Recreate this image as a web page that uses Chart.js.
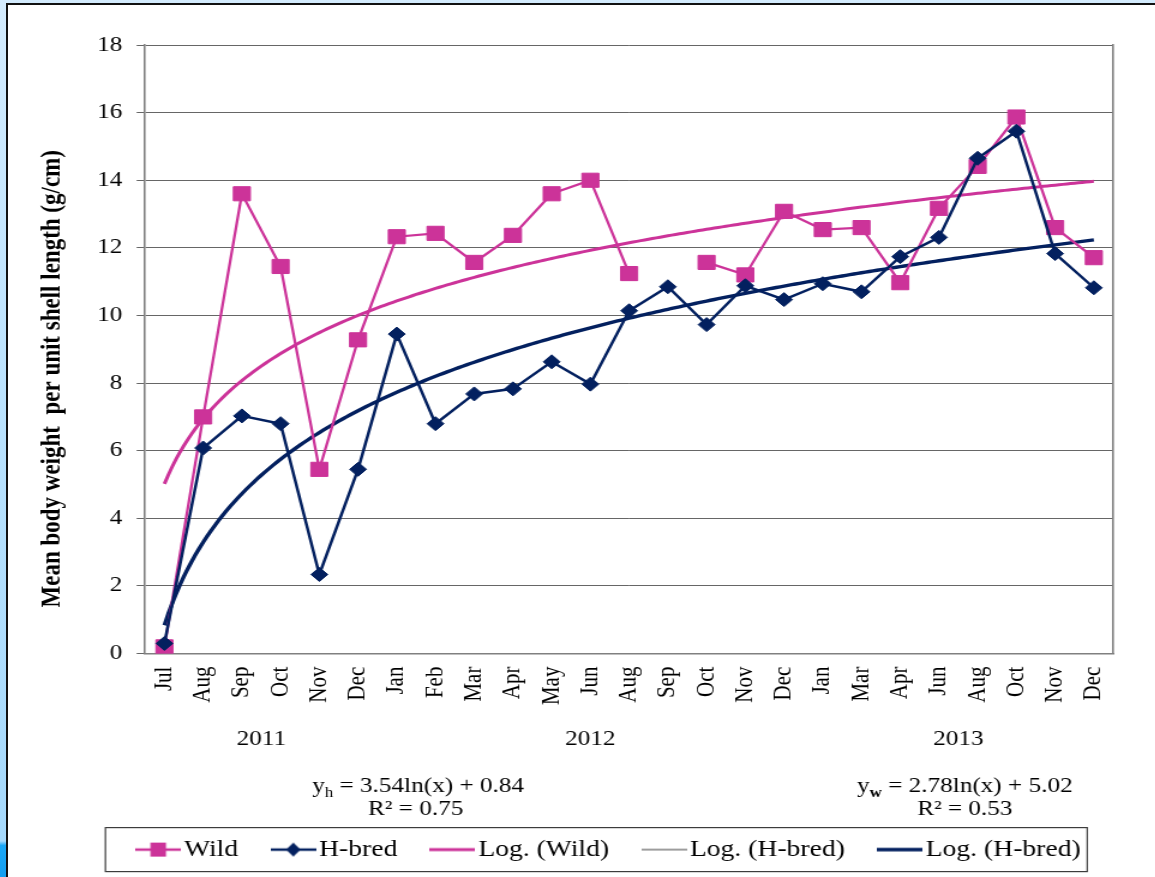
<!DOCTYPE html>
<html>
<head>
<meta charset="utf-8">
<title>Mean body weight per unit shell length</title>
<script src="https://cdn.jsdelivr.net/npm/chart.js@4.4.1/dist/chart.umd.min.js"></script>
<style>
  html, body { margin: 0; padding: 0; }
  body {
    width: 1155px; height: 877px; overflow: hidden; position: relative;
    background: linear-gradient(180deg, #d3ebfd 0%, #b8e1fd 50%, #a5d9fc 95.9%, #1ca7f6 96.4%, #139eef 100%);
  }
  #panel {
    position: absolute; left: 6px; top: 3px; right: 0; bottom: 0;
    background: #ffffff; border-left: 2px solid #111; border-top: 2px solid #111;
  }
  /* the plot is drawn on a narrower canvas and widened horizontally */
  #wrap {
    position: absolute; left: 8px; top: 5px; width: 956px; height: 872px;
    transform: scaleX(1.2); transform-origin: 0 0;
  }
</style>
</head>
<body>
<div id="panel"></div>
<div id="wrap"><canvas id="chart" width="956" height="872"></canvas></div>
<script>
// ---- data ----
const months = ['Jul', 'Aug', 'Sep', 'Oct', 'Nov', 'Dec',
                'Jan', 'Feb', 'Mar', 'Apr', 'May', 'Jun', 'Aug', 'Sep', 'Oct', 'Nov', 'Dec',
                'Jan', 'Mar', 'Apr', 'Jun', 'Aug', 'Oct', 'Nov', 'Dec'];
const yearLabels = ['2011', '2012', '2013'];
const yearFirstIndex = [0, 6, 17];
const yearLastIndex = [5, 16, 24];

const wild = [0.2, 7.0, 13.6, 11.45, 5.45, 9.28,
              12.33, 12.43, 11.57, 12.37, 13.6, 14.0, 11.24, null, 11.57, 11.2, 13.08,
              12.54, 12.6, 10.97, 13.17, 14.41, 15.87, 12.6, 11.71];
const hBred = [0.3, 6.08, 7.03, 6.8, 2.34, 5.45,
               9.45, 6.8, 7.68, 7.83, 8.63, 7.97, 10.14, 10.85, 9.73, 10.88, 10.47,
               10.94, 10.7, 11.74, 12.31, 14.65, 15.45, 11.83, 10.82];

// logarithmic fits: [slope, intercept] for y = a*ln(x) + b, x = 1..n
const hBredLogFit = [3.54, 0.84];
const wildLogFit = [2.78, 5.02];
const hBredR2 = '0.75';
const wildR2 = '0.53';

const yTickValues = [0, 2, 4, 6, 8, 10, 12, 14, 16, 18];

// ---- styling ----
const SERIF = '"Liberation Serif", "Times New Roman", Times, serif';
const PINK = '#cc3399';
const NAVY = '#03205f';
const AXIS_GRAY = '#808080';
const GRID_GRAY = '#666666';

// fitted curve sampled along the month index
function logFitPoints(fit, n) {
  const pts = [];
  for (let i = 10; i <= n * 10; i++) {
    const x = i / 10;
    pts.push({ x: x, y: fit[0] * Math.log(x) + fit[1] });
  }
  return pts;
}

// small line + marker swatches for the legend
function swatch(color, width, marker) {
  const c = document.createElement('canvas');
  c.width = 38; c.height = 20;
  const g = c.getContext('2d');
  g.strokeStyle = color; g.lineWidth = width;
  g.beginPath(); g.moveTo(0, 10); g.lineTo(38, 10); g.stroke();
  g.fillStyle = color;
  if (marker === 'square') {
    g.fillRect(12.5, 3, 13, 14);
  } else if (marker === 'diamond') {
    g.beginPath();
    g.moveTo(13, 10); g.lineTo(19, 3); g.lineTo(25, 10); g.lineTo(19, 17);
    g.closePath(); g.fill();
  }
  return c;
}

const legendEntries = [
  { text: 'Wild', img: swatch(PINK, 2.5, 'square'), color: PINK, ds: 0 },
  { text: 'H-bred', img: swatch(NAVY, 2.5, 'diamond'), color: NAVY, ds: 1 },
  { text: 'Log. (Wild)', img: swatch(PINK, 3, null), color: PINK, ds: 2 },
  { text: 'Log. (H-bred)', img: swatch('#3a3a3a', 1, null), color: '#3a3a3a', ds: 3 },
  { text: 'Log. (H-bred)', img: swatch(NAVY, 3.5, null), color: NAVY, ds: 3 }
];

const LEGEND_SHIFT = 44;

function drawFit(ctx, cx, cy, sub, subBold, rest) {
  const main = '21px ' + SERIF;
  const small = (subBold ? 'bold ' : '') + '14px ' + SERIF;
  ctx.font = main; const wy = ctx.measureText('y').width; const wr = ctx.measureText(rest).width;
  ctx.font = small; const ws = ctx.measureText(sub).width;
  let x = cx - (wy + ws + wr) / 2;
  ctx.textAlign = 'left'; ctx.textBaseline = 'alphabetic';
  ctx.font = main; ctx.fillText('y', x, cy + 7); x += wy;
  ctx.font = small; ctx.fillText(sub, x, cy + 12); x += ws;
  ctx.font = main; ctx.fillText(rest, x, cy + 7);
}

const annotations = {
  id: 'annotations',
  afterLayout(chart) {
    chart.legend.left += LEGEND_SHIFT;
    chart.legend.right += LEGEND_SHIFT;
  },
  afterDraw(chart) {
    const ctx = chart.ctx;
    const area = chart.chartArea;
    const xt = chart.scales.xt;
    ctx.save();
    ctx.fillStyle = '#000';

    // value axis title
    ctx.save();
    ctx.translate(area.left - 77.5, (area.top + area.bottom) / 2 + 29.5);
    ctx.rotate(-Math.PI / 2);
    ctx.font = 'bold 23px ' + SERIF;
    ctx.textAlign = 'center'; ctx.textBaseline = 'middle';
    ctx.fillText('Mean body weight  per unit shell length (g/cm)', 0, 0);
    ctx.restore();

    // years under the month labels
    ctx.font = '21px ' + SERIF;
    ctx.textAlign = 'center'; ctx.textBaseline = 'middle';
    yearLabels.forEach((yr, i) => {
      const mid = (yearFirstIndex[i] + yearLastIndex[i]) / 2 + 1;
      ctx.fillText(yr, xt.getPixelForValue(mid), area.bottom + 86);
    });

    // fitted equations
    const leftX = xt.getPixelForValue(7.55);
    const rightX = xt.getPixelForValue(21.67);
    drawFit(ctx, leftX, area.bottom + 131, 'h', false,
            ' = ' + hBredLogFit[0].toFixed(2) + 'ln(x) + ' + hBredLogFit[1].toFixed(2));
    drawFit(ctx, rightX, area.bottom + 131, 'w', true,
            ' = ' + wildLogFit[0].toFixed(2) + 'ln(x) + ' + wildLogFit[1].toFixed(2));
    ctx.font = '21px ' + SERIF;
    ctx.textAlign = 'center'; ctx.textBaseline = 'middle';
    ctx.fillText('R\u00B2 = ' + hBredR2, leftX - 2, area.bottom + 156);
    ctx.fillText('R\u00B2 = ' + wildR2, rightX, area.bottom + 156);

    // frame round the legend row
    const lg = chart.legend;
    const pad = lg.options.labels.padding;
    const lw = lg.lineWidths[0];
    const start = (lg.left + pad + lg.right - lw) / 2;
    const rowMid = lg.top + pad + 11.5;
    ctx.strokeStyle = '#3c3c3c'; ctx.lineWidth = 1.2;
    ctx.strokeRect(start - 34, rowMid - 22, lw - pad + 39.5, 44);
    ctx.restore();
  }
};

new Chart(document.getElementById('chart'), {
  type: 'line',
  data: {
    labels: months,
    datasets: [
      {
        label: 'Wild', data: wild, xAxisID: 'x', yAxisID: 'y',
        borderColor: PINK, backgroundColor: PINK, borderWidth: 2.3,
        pointStyle: 'rect', pointRadius: 10, pointBorderWidth: 1,
        pointBackgroundColor: PINK, pointBorderColor: PINK,
        tension: 0, spanGaps: false, order: 2
      },
      {
        label: 'H-bred', data: hBred, xAxisID: 'x', yAxisID: 'y',
        borderColor: NAVY, backgroundColor: NAVY, borderWidth: 2.5,
        pointStyle: 'rectRot', pointRadius: 7, pointBorderWidth: 1,
        pointBackgroundColor: NAVY, pointBorderColor: NAVY,
        tension: 0, order: 1
      },
      {
        label: 'Log. (Wild)', data: logFitPoints(wildLogFit, months.length), xAxisID: 'xt', yAxisID: 'y',
        borderColor: PINK, borderWidth: 3, pointRadius: 0, tension: 0, order: 3
      },
      {
        label: 'Log. (H-bred)', data: logFitPoints(hBredLogFit, months.length), xAxisID: 'xt', yAxisID: 'y',
        borderColor: NAVY, borderWidth: 3.4, pointRadius: 0, tension: 0, order: 4
      }
    ]
  },
  options: {
    responsive: false,
    animation: false,
    events: [],
    devicePixelRatio: 1,
    layout: { padding: { left: 0, right: 35, top: 40, bottom: 5.9 } },
    scales: {
      x: {
        type: 'category', offset: true, position: 'bottom',
        grid: { display: false, drawTicks: false },
        border: { display: true, color: AXIS_GRAY, width: 1.5 },
        ticks: {
          autoSkip: false, maxRotation: 90, minRotation: 90, padding: 13,
          color: '#000', font: { family: SERIF, size: 21 }
        },
        afterFit: s => { s.height = 148.5; }
      },
      xt: { type: 'linear', min: 0.5, max: months.length + 0.5, display: false },
      y: {
        type: 'linear', position: 'left', min: 0, max: 18,
        afterBuildTicks: s => { s.ticks = yTickValues.map(v => ({ value: v })); },
        grid: { color: GRID_GRAY, lineWidth: 1, drawTicks: true, tickLength: 7 },
        border: { display: true, color: AXIS_GRAY, width: 1.6 },
        ticks: { padding: 12, color: '#000', font: { family: SERIF, size: 21 } },
        afterFit: s => { s.width = 114.2; }
      },
      yR: {
        type: 'linear', position: 'right', display: true,
        grid: { display: false, drawTicks: false },
        ticks: { display: false },
        border: { display: true, color: AXIS_GRAY, width: 1.6 },
        afterFit: s => { s.width = 0; }
      }
    },
    plugins: {
      tooltip: { enabled: false },
      title: { display: false },
      legend: {
        display: true, position: 'bottom',
        labels: {
          usePointStyle: true, pointStyleWidth: 20, padding: 36,
          color: '#000', font: { family: SERIF, size: 23 },
          generateLabels: () => legendEntries.map(e => ({
            text: e.text, pointStyle: e.img, fillStyle: e.color, strokeStyle: e.color,
            lineWidth: 0, hidden: false, datasetIndex: e.ds, fontColor: '#000'
          }))
        }
      }
    }
  },
  plugins: [annotations]
});
</script>
</body>
</html>
